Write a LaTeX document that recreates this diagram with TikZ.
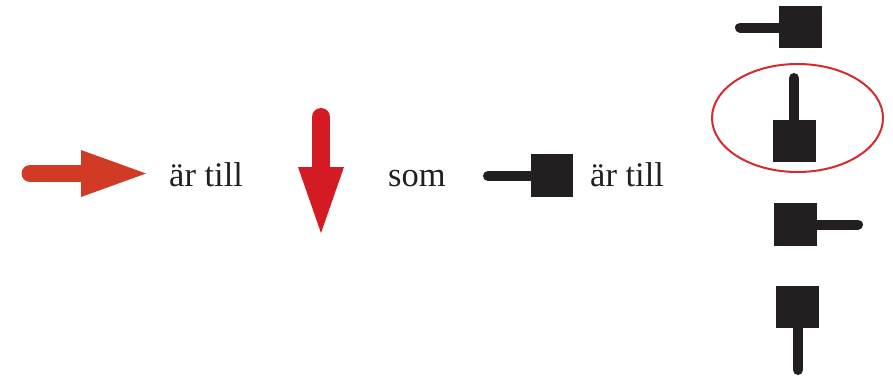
\documentclass[tikz,border=0pt]{standalone}
\usepackage{fontspec}
\setmainfont{Liberation Serif}
\definecolor{arrowA}{HTML}{D13A24}
\definecolor{arrowB}{HTML}{D41B24}
\definecolor{ink}{HTML}{231F20}
\definecolor{ringred}{HTML}{D42A30}
\begin{document}
\begin{tikzpicture}[x=1pt,y=-1pt,
  lbl/.style={anchor=base west,inner sep=0pt,text=ink,font=\fontsize{34.5}{40}\selectfont},
  stem/.style={draw=ink,line width=10,line cap=round},
  blockbox/.style={fill=ink},
  ring/.style={draw=ringred,line width=2}]
\useasboundingbox (0,0) rectangle (893,378);
% red arrow right
\draw[arrowA,line width=17,line cap=round] (30,173.5) -- (85,173.5);
\fill[arrowA] (81,150) -- (146,173.5) -- (81,197) -- cycle;
\node[lbl] (t1) at (169,186) {är till};
% red arrow down
\draw[arrowB,line width=18,line cap=round] (321,117) -- (321,170);
\fill[arrowB] (298,167) -- (344,167) -- (321,233) -- cycle;
\node[lbl] (t2) at (388,186) {som};
% stamp left
\draw[stem] (488,176) -- (535,176);
\fill[blockbox] (531,154) rectangle (573,197);
\node[lbl] (t3) at (590,186) {är till};
% right column
\draw[stem] (740,27.5) -- (782,27.5);
\fill[blockbox] (779,6) rectangle (822,48);
\draw[ring] (797.5,118) ellipse [x radius=85.5,y radius=54];
\draw[stem] (794,78) -- (794,123);
\fill[blockbox] (773,120) rectangle (816,162);
\draw[stem] (814,224.5) -- (858,224.5);
\fill[blockbox] (774,203) rectangle (817,246);
\draw[stem] (798,325) -- (798,370);
\fill[blockbox] (776,286) rectangle (819,328);
\end{tikzpicture}
\end{document}
